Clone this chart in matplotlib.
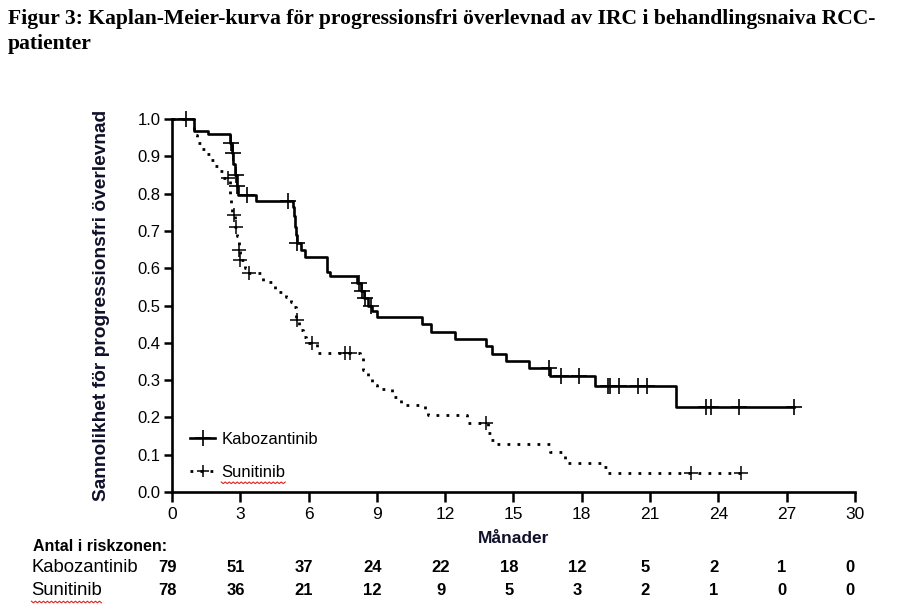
import matplotlib
matplotlib.use("Agg")
import numpy as np
import matplotlib.pyplot as plt
from matplotlib.lines import Line2D

plt.rcParams['font.family'] = ['Liberation Sans', 'DejaVu Sans']

# Kabozantinib - steg (tid i månader, överlevnad efter steget)
kabo_t = [0, 0.97, 1.6, 2.55, 2.62, 2.7, 2.78, 2.85, 2.9, 3.69, 5.3, 5.35, 5.4,
          5.45, 5.5, 5.65, 5.84, 6.8, 6.94, 8.14, 8.3, 8.45, 8.6, 8.8, 8.99,
          11.0, 11.4, 12.43, 13.79, 14.04, 14.67, 15.69, 16.6, 18.58, 22.16, 27.33]
kabo_s = [1.0, 0.969, 0.959, 0.935, 0.91, 0.88, 0.85, 0.82, 0.797, 0.78, 0.765, 0.74, 0.71,
          0.69, 0.667, 0.649, 0.631, 0.59, 0.579, 0.56, 0.54, 0.52, 0.50, 0.485, 0.468,
          0.45, 0.428, 0.409, 0.391, 0.37, 0.352, 0.332, 0.311, 0.284, 0.227, 0.227]
kabo_cens = [0.6, 2.59, 2.66, 2.81, 2.87, 3.3, 5.1, 5.5, 8.2, 8.35, 8.5, 8.75,
             16.56, 17.07, 17.89, 19.16, 19.24, 19.63, 20.48, 20.87, 23.45, 23.7, 24.9, 27.33]

# Sunitinib
suni_t = [0, 0.97, 1.1, 1.3, 1.5, 1.7, 1.9, 2.05, 2.26, 2.55, 2.6, 2.65, 2.75, 2.87,
          2.95, 3.0, 3.2, 3.4, 4.0, 4.52, 5.03, 5.25, 5.3, 5.45, 5.6, 5.75, 5.9, 6.35,
          8.26, 8.4, 8.6, 8.77, 9.0, 9.68, 10.05, 11.1, 11.25, 12.94, 13.9, 14.0, 14.2,
          16.6, 17.26, 17.4, 18.9, 19.1, 25.0]
suni_s = [1.0, 0.957, 0.935, 0.92, 0.905, 0.89, 0.875, 0.86, 0.841, 0.80, 0.77, 0.743, 0.71, 0.685,
          0.65, 0.622, 0.60, 0.586, 0.564, 0.537, 0.524, 0.51, 0.497, 0.461, 0.434, 0.415, 0.40, 0.372,
          0.363, 0.327, 0.31, 0.287, 0.277, 0.256, 0.233, 0.215, 0.206, 0.184, 0.157, 0.139, 0.13,
          0.108, 0.086, 0.077, 0.068, 0.05, 0.05]
suni_cens = [2.47, 2.72, 2.81, 2.96, 3.0, 3.4, 5.5, 6.13, 7.6, 7.8, 13.8, 22.78, 25.0]

# antal i riskzonen
risk_times = [0, 3, 6, 9, 12, 15, 18, 21, 24, 27, 30]
kabo_risk = [79, 51, 37, 24, 22, 18, 12, 5, 2, 1, 0]
suni_risk = [78, 36, 21, 12, 9, 5, 3, 2, 1, 0, 0]


def step_at(t, times, surv):
    i = np.searchsorted(times, t, side='right') - 1
    return surv[max(i, 0)]


def squiggle(fig, txt):
    # röd vågig stavningslinje under texten, som i originalet
    fig.canvas.draw()
    bb = txt.get_window_extent()
    xs = np.arange(bb.x0, bb.x1 + 1, 2.0)
    ys = bb.y0 - 2 + np.where(np.arange(len(xs)) % 2 == 0, 0, -1.6)
    inv = fig.transFigure.inverted()
    pts = inv.transform(np.column_stack([xs, ys]))
    fig.add_artist(Line2D(pts[:, 0], pts[:, 1], color='#e02020', lw=0.8,
                          transform=fig.transFigure))


fig = plt.figure(figsize=(8.98, 6.04), dpi=100)
ax = fig.add_axes([0.1915, 0.1854, 0.7605, 0.6176])

ax.step(kabo_t, kabo_s, where='post', color='black', lw=1.9, clip_on=False)
ax.plot(kabo_cens, [step_at(t, kabo_t, kabo_s) for t in kabo_cens], ls='none',
        marker='+', ms=11, mew=1.2, color='black', clip_on=False)

ax.step(suni_t, suni_s, where='post', color='black', lw=2.0, ls=(0, (1, 2.6)), clip_on=False)
ax.plot(suni_cens, [step_at(t, suni_t, suni_s) for t in suni_cens], ls='none',
        marker='+', ms=10, mew=1.1, color='black', clip_on=False)

ax.set_xlim(0, 30)
ax.set_ylim(0, 1.0)
ax.set_xticks(risk_times)
ax.set_yticks(np.arange(0, 1.01, 0.1))
ax.yaxis.set_major_formatter(plt.FormatStrFormatter('%.1f'))
for s in ['top', 'right']:
    ax.spines[s].set_visible(False)
for s in ['left', 'bottom']:
    ax.spines[s].set_linewidth(1.9)
ax.tick_params(axis='y', direction='out', length=6, width=1.8, labelsize=12, pad=2)
ax.tick_params(axis='x', direction='out', length=7, width=1.8, labelsize=12.5, pad=4)

ax.set_xlabel('Månader', fontsize=12.5, fontweight='bold', color='#10102a', labelpad=6)
ax.set_ylabel('Sannolikhet för progressionsfri överlevnad', fontsize=13.8,
              fontweight='bold', color='#10102a', labelpad=20)

handles = [Line2D([], [], color='black', lw=1.9, marker='+', ms=11, mew=1.2),
           Line2D([], [], color='black', lw=2.0, ls=(0, (1, 2.6)), marker='+', ms=8, mew=1.1)]
leg = ax.legend(handles, ['Kabozantinib', 'Sunitinib'], loc='lower left',
                bbox_to_anchor=(0.005, -0.008), frameon=False, fontsize=12,
                handlelength=1.5, handletextpad=0.35, labelspacing=1.1)

fig.text(0.009, 0.985, 'Figur 3: Kaplan-Meier-kurva för progressionsfri överlevnad av IRC i behandlingsnaiva RCC-\npatienter',
         ha='left', va='top', fontsize=15.6, fontweight='bold',
         family=['Liberation Serif', 'DejaVu Serif'], linespacing=1.3)

# riskzonstabell
fig.text(0.037, 0.096, 'Antal i riskzonen:', fontsize=11.5, fontweight='bold', va='center')
tr = matplotlib.transforms.blended_transform_factory(ax.transData, fig.transFigure)
fig.text(0.035, 0.060, 'Kabozantinib', fontsize=13.3, va='center')
suni_lbl = fig.text(0.035, 0.022, 'Sunitinib', fontsize=13.3, va='center')
for t, k, s in zip(risk_times, kabo_risk, suni_risk):
    ax.text(t - 0.2, 0.060, str(k), transform=tr, ha='center', va='center',
            fontsize=12, fontweight='bold')
    ax.text(t - 0.2, 0.022, str(s), transform=tr, ha='center', va='center',
            fontsize=12, fontweight='bold')

squiggle(fig, suni_lbl)
squiggle(fig, leg.get_texts()[1])

fig.savefig('out.png', dpi=100)
